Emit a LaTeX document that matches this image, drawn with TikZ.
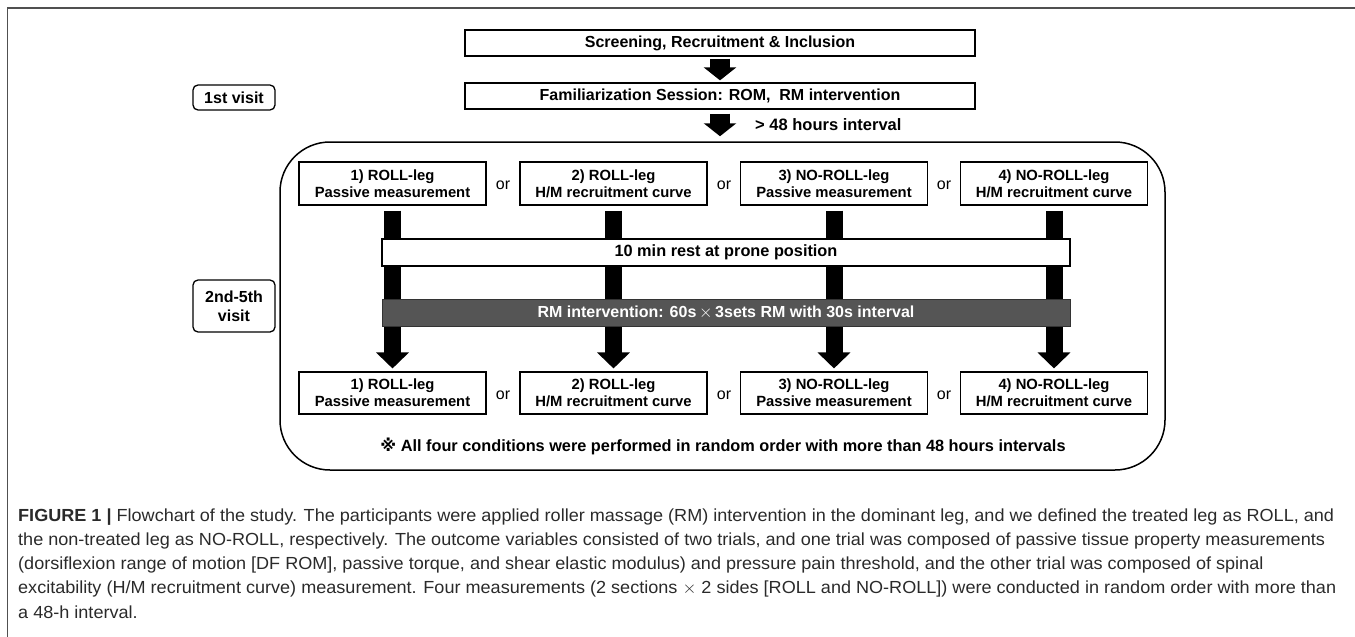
\documentclass[tikz,border=0pt]{standalone}
\usepackage{fontspec}
\setmainfont{Liberation Sans}
\newfontfamily\symfont{DejaVu Sans}
\usetikzlibrary{arrows.meta,calc}
\definecolor{rmgray}{HTML}{555555}
\definecolor{framegray}{HTML}{505050}
\definecolor{captext}{HTML}{2a2a2a}
\newsavebox\capbox
\newcommand\capfont{\fontsize{17.5}{20}\selectfont}
\newcommand\capfirst{\textbf{FIGURE 1 |} Flowchart of the study. The participants were applied roller massage (RM) intervention in the dominant leg, and we defined the treated leg as ROLL, and}
\begin{document}
\sbox\capbox{\capfont\capfirst}%
\pgfmathsetmacro\capratio{1316/\wd\capbox}%
\begin{tikzpicture}[x=1pt,y=-1pt,
  flowbox/.style={draw=black,line width=1.3pt,fill=white,inner sep=0pt,font=\bfseries\fontsize{16}{18}\selectfont},
  legbox/.style={draw=black,line width=1.1pt,fill=white,inner sep=0pt,minimum width=187pt,minimum height=43pt,align=center,font=\bfseries\fontsize{14.8}{17}\selectfont},
  visitbox/.style={draw=black,line width=1.3pt,rounded corners=5pt,inner sep=0pt,minimum width=82pt,align=center,font=\bfseries\fontsize{16}{19}\selectfont},
  orlabel/.style={font=\fontsize{16}{17}\selectfont},
  fatarrow/.style={line width=17pt,-{Triangle[width=32pt,length=16pt]}},
  toparrow/.style={line width=20pt,-{Triangle[width=32pt,length=13pt]}},
  capline/.style={anchor=west,inner sep=0pt,text=captext,font=\capfont}
]
\useasboundingbox (0,0) rectangle (1355,637);
% outer frame (top and left)
\draw[framegray,line width=1.5pt] (7.5,637) -- (7.5,8) -- (1355,8);

% top flow
\node[flowbox,minimum width=510pt,minimum height=26pt] (scr) at (720,43) {Screening, Recruitment \& Inclusion};
\node[flowbox,minimum width=510pt,minimum height=26pt] (fam) at (720,96) {Familiarization Session: ROM,\ \ RM intervention};
\node[visitbox,minimum height=25pt] (v1) at (234,97.5) {1st visit};
\draw[toparrow,shorten <=2pt,shorten >=2pt] (scr.south) -- (fam.north);

% big rounded frame
\node[draw=black,line width=1.5pt,rounded corners=50pt,minimum width=885pt,minimum height=328pt,inner sep=0pt] (big) at (722.5,306) {};
\node[visitbox,minimum height=52pt] (v2) at (234,306) {2nd-5th\\visit};
\draw[toparrow,shorten <=4pt,shorten >=5pt] (fam.south) -- (fam.south |- big.north);
\node[anchor=west,inner sep=0pt,font=\bfseries\fontsize{16.5}{18}\selectfont] (gap) at (755,125) {> 48 hours interval};

% top row
\node[legbox] (t1) at (392.5,183.5) {1) ROLL-leg\\Passive measurement};
\node[legbox] (t2) at (613.5,183.5) {2) ROLL-leg\\H/M recruitment curve};
\node[legbox] (t3) at (834,183.5) {3) NO-ROLL-leg\\Passive measurement};
\node[legbox] (t4) at (1054,183.5) {4) NO-ROLL-leg\\H/M recruitment curve};
\node[orlabel] (o1) at (503,185) {or};
\node[orlabel] (o2) at (724,185) {or};
\node[orlabel] (o3) at (944,185) {or};

% bottom row
\node[legbox,minimum height=42pt] (b1) at (392.5,393) {1) ROLL-leg\\Passive measurement};
\node[legbox,minimum height=42pt] (b2) at (613.5,393) {2) ROLL-leg\\H/M recruitment curve};
\node[legbox,minimum height=42pt] (b3) at (834,393) {3) NO-ROLL-leg\\Passive measurement};
\node[legbox,minimum height=42pt] (b4) at (1054,393) {4) NO-ROLL-leg\\H/M recruitment curve};
\node[orlabel] (p1) at (503,395) {or};
\node[orlabel] (p2) at (724,395) {or};
\node[orlabel] (p3) at (944,395) {or};

% thick arrows
\foreach \i in {1,2,3,4}{
  \draw[fatarrow,shorten <=5pt,shorten >=3pt] (t\i.south) -- (b\i.north);
}

% rest and RM bars
\node[draw=black,line width=1.5pt,fill=white,minimum width=688pt,minimum height=27pt,inner sep=0pt,font=\bfseries\fontsize{16.3}{18}\selectfont] (rest) at (726,252.5) {10 min rest at prone position};
\node[draw=black!80,line width=1pt,fill=rmgray,text=white,minimum width=688pt,minimum height=27pt,inner sep=0pt,font=\bfseries\fontsize{16}{18}\selectfont] (rm) at (726,312.5) {RM intervention: 60s\,{\mdseries$\times$}\,3sets RM with 30s interval};

% footnote
\node[font=\bfseries\fontsize{16.3}{18}\selectfont,inner sep=0pt] (note) at (723,446) {{\symfont ※} All four conditions were performed in random order with more than 48 hours intervals};

% caption: scaled horizontally so the first line spans 1316pt
\node[capline] (c1) at (18,517) {\scalebox{\capratio}[1]{\capfirst}};
\node[capline] (c2) at (18,541) {\scalebox{\capratio}[1]{the non-treated leg as NO-ROLL, respectively. The outcome variables consisted of two trials, and one trial was composed of passive tissue property measurements}};
\node[capline] (c3) at (18,565) {\scalebox{\capratio}[1]{(dorsiflexion range of motion [DF ROM], passive torque, and shear elastic modulus) and pressure pain threshold, and the other trial was composed of spinal}};
\node[capline] (c4) at (18,589) {\scalebox{\capratio}[1]{excitability (H/M recruitment curve) measurement. Four measurements (2 sections $\times$ 2 sides [ROLL and NO-ROLL]) were conducted in random order with more than}};
\node[capline] (c5) at (18,612) {\scalebox{\capratio}[1]{a 48-h interval.}};
\end{tikzpicture}
\end{document}
